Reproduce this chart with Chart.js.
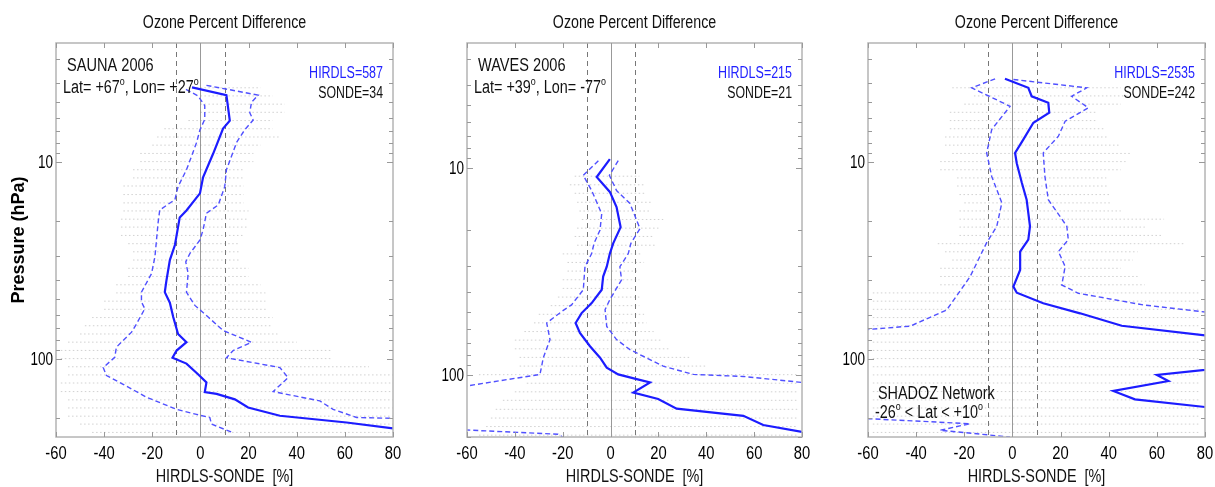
<!DOCTYPE html>
<html>
<head>
<meta charset="utf-8">
<script src="https://cdn.jsdelivr.net/npm/chart.js@4.4.1/dist/chart.umd.min.js"></script>
<style>
  html, body { margin: 0; padding: 0; background: #fff; }
  #wrap { position: relative; width: 1215px; height: 487px; overflow: hidden; background: #fff; }
  .panel { position: absolute; top: 0; }
</style>
</head>
<body>
<div id="wrap">
  <div class="panel" style="left:0px"><canvas id="c1" width="405" height="487"></canvas></div>
  <div class="panel" style="left:410px"><canvas id="c2" width="405" height="487"></canvas></div>
  <div class="panel" style="left:810px"><canvas id="c3" width="405" height="487"></canvas></div>
</div>
<script>
// --- axes ---
const X_TICKS = [-60, -40, -20, 0, 20, 40, 60, 80];
const Y_LABELS = [10, 100];
const Y_MINOR = [3, 4, 5, 6, 7, 8, 9, 10, 20, 30, 40, 50, 60, 70, 80, 90, 100, 200];
const REF_LINES = [-10, 0, 10];

// --- HIRDLS pressure levels (hPa) where the individual differences sit ---
const LEVELS = [4.22, 4.64, 5.11, 5.62, 6.19, 6.81, 7.50, 8.25, 9.09, 10.0, 11.0, 12.1, 13.3, 14.7, 16.2,
  17.8, 19.6, 21.5, 23.7, 26.1, 28.7, 31.6, 34.8, 38.3, 42.2, 46.4, 51.1, 56.2, 61.9, 68.1,
  75.0, 82.5, 90.9, 100, 110, 121, 133, 147, 162, 178, 196, 215, 237];

// --- SAUNA 2006 ---
const SAUNA_MEAN_P = [4.2, 4.6, 6.2, 6.8, 9.1, 12.0, 14.5, 17.7, 19.2, 26.5, 31.6, 40, 46, 52, 61.5, 75, 82.5, 91, 99, 106, 120, 132, 148, 151, 161, 177, 195, 211, 226];
const SAUNA_MEAN = [-3.5, 10.8, 12.2, 9.4, 5.3, 1.1, -0.2, -5.8, -8.6, -10.6, -12.7, -14.1, -14.8, -12.7, -11.3, -9.3, -5.8, -9.9, -11.6, -5.8, -1.0, 2.5, 1.8, 6.7, 14.3, 19.8, 33.0, 60.7, 80];
const SAUNA_LO_P = [4.3, 4.64, 5.2, 6.1, 6.9, 8.0, 9.4, 11.0, 13.4, 15.6, 17.6, 20.5, 27, 30.4, 37, 46, 51.6, 55.8, 66.5, 73.4, 87.5, 98.5, 111, 122, 135, 157, 181, 192, 199, 215, 238];
const SAUNA_LO = [-6, -1.0, 1.8, 1.8, -0.2, -1.6, -3.7, -5.8, -9.3, -10.6, -16.9, -17.6, -18.5, -18.9, -20.3, -24.5, -24.5, -23.1, -26.5, -28.6, -34.9, -35.6, -40.4, -39.0, -32.1, -22.4, -9.9, -1.6, 3.9, 4.6, 13.6];
const SAUNA_HI_P = [4.1, 4.6, 5.0, 5.65, 6.15, 6.9, 8.0, 9.4, 11.0, 13.4, 16.6, 18.3, 22.2, 25, 29.3, 32.3, 37, 46, 53.7, 61.5, 72, 82.6, 91, 99, 111, 125, 147, 164, 181, 199, 201];
const SAUNA_HI = [2.5, 24.0, 21.2, 20.5, 21.9, 18.4, 15.0, 12.9, 10.8, 10.1, 7.4, 2.5, 1.1, -0.2, -4.4, -6.1, -5.1, -5.8, -2.3, 3.2, 9.4, 21.2, 13.6, 10.8, 33.0, 36.4, 30.2, 49.6, 55.1, 64.9, 80];
const SAUNA_DOT_MIN = [-5, 0, 0, 0, -5, -15, -18, -20, -25, -25, -28, -28, -32, -32, -32, -32, -33, -33, -33, -30, -28, -28, -30, -30, -35, -35, -40, -40, -45, -48, -50, -55, -58, -58, -55, -55, -58, -58, -55, -55, -55, -50, -45];
const SAUNA_DOT_MAX = [25, 30, 35, 35, 30, 30, 33, 25, 22, 22, 18, 18, 18, 18, 18, 20, 20, 20, 18, 16, 16, 16, 20, 20, 25, 27, 27, 28, 30, 30, 32, 40, 55, 55, 70, 80, 80, 80, 80, 80, 80, 80, 80];

// --- WAVES 2006 ---
const WAVES_MEAN_P = [9.1, 11.1, 13.1, 15.5, 19.4, 23.2, 26, 30.1, 33.6, 38.9, 45.1, 50.4, 56.3, 62.8, 72.9, 82.8, 92.5, 99.7, 105, 109, 122, 131, 146, 158, 175, 189];
const WAVES_MEAN = [-0.3, -5.8, -0.3, 2.5, 4.2, 1.1, -0.3, -1.6, -3.1, -3.7, -7.9, -12.1, -14.6, -12.8, -8.6, -4.4, -1.6, 3.2, 10.9, 16.5, 9.5, 19.9, 27.6, 55.5, 63.8, 80];
const WAVES_LO_P = [9.25, 10.9, 12.9, 16.7, 20, 23.2, 26, 30.1, 38.9, 46, 49.5, 56.3, 67.7, 82.8, 99.7, 165.5, 194, 200];
const WAVES_LO = [-5.1, -11.4, -7.9, -3.7, -4.4, -6.9, -7.9, -10.7, -11.4, -16.3, -20.4, -26.7, -25.3, -28.1, -29.5, -150, -22, -20];
const WAVES_HI_P = [9.25, 10.9, 12.9, 14.9, 19.7, 23.2, 26, 30.1, 34.8, 43.4, 48.5, 58.5, 67.7, 75.7, 91, 99.7, 102, 109];
const WAVES_HI = [3.2, -0.5, 2.5, 8.1, 12.3, 8.5, 7.4, 3.9, 4.6, -0.3, -2.3, -1.6, 2.5, 8.1, 22.0, 34.6, 55.5, 80];
const WAVES_DOT_MIN = [null, null, null, null, null, null, null, null, null, null,
  -15, -17, -15, -14, -13, -12, -14, -15, -14, -20, -18, -18, -20, -20, -22, -25, -30, -32, -36, -40,
  -40, -38, -38, -55, -35, -40, -45, -48, -50, -52, -55, null, null];
const WAVES_DOT_MAX = [null, null, null, null, null, null, null, null, null, null,
  12, 14, 15, 17, 17, 22, 20, 18, 19, 13, 14, 12, 12, 10, 12, 12, 14, 15, 18, 21,
  25, 33, 40, 78, 78, 78, 78, 78, 78, 78, 78, null, null];

// --- SHADOZ network ---
const SHADOZ_MEAN_P = [3.8, 4.22, 4.66, 5.03, 5.65, 6.35, 7.73, 9.03, 10.2, 12.8, 15.6, 21.3, 24.9, 28.6, 35.5, 43.1, 46.3, 52.4, 58.9, 68.1, 94.2, 121, 130, 146, 161, 199];
const SHADOZ_MEAN = [-3.1, 6.6, 8.0, 14.9, 15.3, 8.7, 4.5, 1.1, 1.8, 3.9, 5.9, 7.3, 6.6, 3.2, 3.2, 0.4, 1.8, 12.8, 28.1, 45.4, 146, 60.0, 64.8, 41.9, 50.9, 120];
const SHADOZ_LO_P = [3.8, 4.22, 5.24, 6.87, 9.03, 11.9, 16.2, 21.3, 25.8, 30.3, 38.4, 56.6, 68.4, 71, 137, 214, 231, 250];
const SHADOZ_LO = [-7.2, -16.9, -1.0, -8.6, -10.7, -8.6, -4.4, -6.5, -10.7, -13.5, -17.6, -27.3, -42.5, -59.2, -340, -17.6, -30.1, -1.0];
const SHADOZ_HI_P = [3.83, 4.22, 4.66, 5.33, 6.24, 7.43, 9.03, 11.9, 15.6, 21.3, 24.9, 28.6, 34.1, 42.3, 46.6, 53.4, 58, 63.5];
const SHADOZ_HI = [0.4, 30.9, 24.6, 31.5, 21.9, 19.1, 12.8, 13.5, 14.9, 22.6, 23.2, 19.1, 21.9, 20.5, 27.4, 54.4, 80, 110];
const SHADOZ_DOT_MIN = [-25, -16, -20, -26, -26, -26, -28, -28, -25, -30, -30, -23, -23, -22, -20, -22, -22, -22, -22, -31, -28, -25, -30, -30, -30,
  -58, -58, -58, -58, -58, -58, -58, -58, -58, -58, -58, -58, -58, -58, -58, -58, -58, -58];
const SHADOZ_DOT_MAX = [45, 49, 45, 35, 35, 38, 40, 45, 49, 47, 45, 39, 40, 41, 41, 45, 63, 55, 62, 71, 52, 50, 45, 52, 55,
  78, 78, 78, 78, 78, 78, 78, 78, 78, 78, 78, 78, 78, 78, 78, 78, 78, 78];

const FONT = '"Liberation Sans", Arial, sans-serif';
const BLUE = '#2222ff';

const pts = (vals, pres) => vals.map((v, i) => ({ x: v, y: pres[i] }));

function rows(mins, maxs) {
    const out = [];
    LEVELS.forEach((p, i) => {
        if (mins[i] == null) return;
        out.push({ x: mins[i], y: p }, { x: maxs[i], y: p }, { x: maxs[i], y: null });
    });
    return out;
}

// draws condensed text, parts = [[text, isSuperscript], ...]
function drawText(ctx, parts, x, y, o) {
    const size = o.size || 18, sx = o.sx || 0.8;
    if (typeof parts === 'string') parts = [[parts, false]];
    ctx.save();
    const font = (s) => `${o.bold ? 'bold ' : ''}${s}px ${FONT}`;
    let w = 0;
    parts.forEach(([t, sup]) => {
        ctx.font = font(sup ? size * 0.62 : size);
        w += ctx.measureText(t).width;
    });
    w *= sx;
    let off = 0;
    if (o.align === 'right') off = -w;
    else if (o.align === 'center') off = -w / 2;
    ctx.translate(x, y);
    if (o.rotate) ctx.rotate(o.rotate);
    ctx.translate(off, 0);
    ctx.scale(sx, 1);
    ctx.fillStyle = o.color || '#111';
    ctx.textAlign = 'left';
    ctx.textBaseline = 'alphabetic';
    let cx = 0;
    parts.forEach(([t, sup]) => {
        ctx.font = font(sup ? size * 0.62 : size);
        ctx.fillText(t, cx, sup ? -size * 0.45 : 0);
        cx += ctx.measureText(t).width;
    });
    ctx.restore();
}

const panelPlugin = {
    id: 'panelDecor',
    beforeDatasetsDraw(chart) {
        const { ctx, chartArea: a, scales: { x } } = chart;
        ctx.save();
        REF_LINES.forEach(v => {
            const px = Math.round(x.getPixelForValue(v)) + 0.5;
            ctx.beginPath();
            ctx.lineWidth = 1;
            if (v === 0) { ctx.strokeStyle = '#999'; ctx.setLineDash([]); }
            else { ctx.strokeStyle = '#777'; ctx.setLineDash([5, 4]); }
            ctx.moveTo(px, a.top);
            ctx.lineTo(px, a.bottom);
            ctx.stroke();
        });
        ctx.restore();
    },
    afterDraw(chart) {
        const { ctx, chartArea: a, scales: { x, y } } = chart;
        const cfg = chart.options.plugins.panelDecor;
        ctx.save();
        // frame
        ctx.strokeStyle = '#b4b4b4';
        ctx.lineWidth = 1.5;
        ctx.setLineDash([]);
        ctx.strokeRect(a.left, a.top, a.right - a.left, a.bottom - a.top);
        // inward ticks
        ctx.strokeStyle = '#999';
        ctx.lineWidth = 1;
        ctx.beginPath();
        X_TICKS.forEach(v => {
            const px = Math.round(x.getPixelForValue(v)) + 0.5;
            ctx.moveTo(px, a.bottom); ctx.lineTo(px, a.bottom - 5);
            ctx.moveTo(px, a.top); ctx.lineTo(px, a.top + 5);
        });
        Y_MINOR.forEach(v => {
            if (v < y.min || v > y.max) return;
            const py = Math.round(y.getPixelForValue(v)) + 0.5;
            const len = Y_LABELS.includes(v) ? 6 : 4;
            ctx.moveTo(a.left, py); ctx.lineTo(a.left + len, py);
            ctx.moveTo(a.right, py); ctx.lineTo(a.right - len, py);
        });
        ctx.stroke();
        ctx.restore();

        // tick labels
        X_TICKS.forEach(v => {
            drawText(ctx, String(v), x.getPixelForValue(v), a.bottom + 22, { size: 18, sx: 0.82, align: 'center', color: '#000' });
        });
        Y_LABELS.forEach(v => {
            drawText(ctx, String(v), a.left - 3, y.getPixelForValue(v) + 6.5, { size: 18, sx: 0.75, align: 'right', color: '#000' });
        });
        const cx = (a.left + a.right) / 2;
        drawText(ctx, 'Ozone Percent Difference', cx, 28, { size: 18, sx: 0.79, align: 'center' });
        drawText(ctx, 'HIRDLS-SONDE  [%]', cx, a.bottom + 45, { size: 18, sx: 0.8, align: 'center' });
        if (cfg.yTitle) {
            drawText(ctx, 'Pressure (hPa)', 24, 240, { size: 18, sx: 1.0, bold: true, align: 'center', rotate: -Math.PI / 2, color: '#000' });
        }
        // annotations
        if (cfg.site) drawText(ctx, cfg.site, a.left + 11, 71, { size: 18, sx: 0.81 });
        if (cfg.latlon) drawText(ctx, cfg.latlon, a.left + 7, 93, { size: 18, sx: 0.8 });
        drawText(ctx, cfg.hirdls, a.right - 10, 78, { size: 16, sx: 0.78, align: 'right', color: BLUE });
        drawText(ctx, cfg.sonde, a.right - 10, 98, { size: 16, sx: 0.77, align: 'right' });
        if (cfg.bottomNote) {
            drawText(ctx, cfg.bottomNote[0], a.left + 10, 399, { size: 18, sx: 0.8 });
            drawText(ctx, cfg.bottomNote[1], a.left + 7, 418, { size: 18, sx: 0.8 });
        }
    }
};

function makePanel(id, opt) {
    const lineDs = (data, solid) => ({
        data,
        showLine: true,
        borderColor: solid ? '#1c1cff' : '#5050ff',
        borderWidth: solid ? 2.2 : 1.4,
        borderDash: solid ? [] : [5, 3],
        pointRadius: 0,
        tension: 0,
        spanGaps: false
    });
    new Chart(document.getElementById(id), {
        type: 'scatter',
        data: {
            datasets: [
                lineDs(opt.mean, true),
                lineDs(opt.lo, false),
                lineDs(opt.hi, false),
                {
                    data: opt.dots,
                    showLine: true,
                    borderColor: 'rgba(140,140,140,0.4)',
                    borderWidth: 1,
                    borderDash: [1.5, 2.5],
                    pointRadius: 0,
                    spanGaps: false
                }
            ]
        },
        options: {
            responsive: false,
            animation: false,
            events: [],
            layout: { padding: { left: opt.left, right: opt.right, top: 43, bottom: 50 } },
            scales: {
                x: { type: 'linear', min: -60, max: 80, display: false },
                y: { type: 'logarithmic', min: 2.5, max: opt.yMax, reverse: true, display: false }
            },
            plugins: {
                legend: { display: false },
                tooltip: { enabled: false },
                panelDecor: opt.decor
            }
        },
        plugins: [panelPlugin]
    });
}

makePanel('c1', {
    left: 56, right: 12, yMax: 250,
    mean: pts(SAUNA_MEAN, SAUNA_MEAN_P),
    lo: pts(SAUNA_LO, SAUNA_LO_P),
    hi: pts(SAUNA_HI, SAUNA_HI_P),
    dots: rows(SAUNA_DOT_MIN, SAUNA_DOT_MAX),
    decor: {
        yTitle: true,
        site: 'SAUNA 2006',
        latlon: [['Lat= +67', false], ['o', true], [', Lon= +27', false], ['o', true]],
        hirdls: 'HIRDLS=587', sonde: 'SONDE=34'
    }
});

makePanel('c2', {
    left: 57, right: 13, yMax: 200,
    mean: pts(WAVES_MEAN, WAVES_MEAN_P),
    lo: pts(WAVES_LO, WAVES_LO_P),
    hi: pts(WAVES_HI, WAVES_HI_P),
    dots: rows(WAVES_DOT_MIN, WAVES_DOT_MAX),
    decor: {
        site: 'WAVES 2006',
        latlon: [['Lat= +39', false], ['o', true], [', Lon= -77', false], ['o', true]],
        hirdls: 'HIRDLS=215', sonde: 'SONDE=21'
    }
});

makePanel('c3', {
    left: 58, right: 10, yMax: 250,
    mean: pts(SHADOZ_MEAN, SHADOZ_MEAN_P),
    lo: pts(SHADOZ_LO, SHADOZ_LO_P),
    hi: pts(SHADOZ_HI, SHADOZ_HI_P),
    dots: rows(SHADOZ_DOT_MIN, SHADOZ_DOT_MAX),
    decor: {
        hirdls: 'HIRDLS=2535', sonde: 'SONDE=242',
        bottomNote: ['SHADOZ Network', [['-26', false], ['o', true], [' < Lat < +10', false], ['o', true]]]
    }
});
</script>
</body>
</html>
